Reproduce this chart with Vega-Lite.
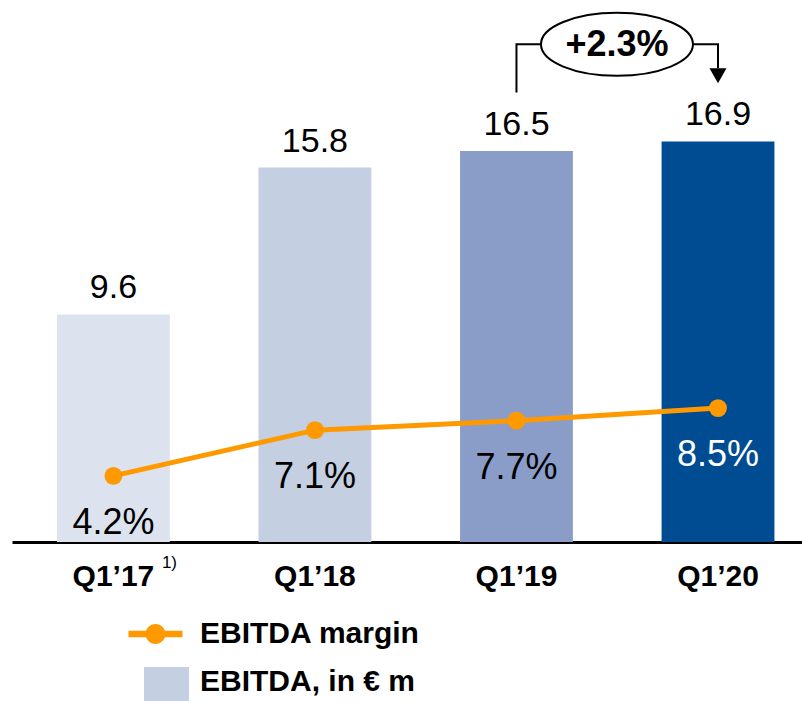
{
  "$schema": "https://vega.github.io/schema/vega-lite/v6.json",
  "width": 790,
  "height": 542,
  "autosize": {"type": "none"},
  "padding": {"left": 12, "top": 0, "right": 0, "bottom": 159},
  "background": "white",
  "config": {"font": "Liberation Sans", "view": {"stroke": null}},
  "datasets": {
    "main": [
      {"q": "Q1’17", "ebitda": 9.6, "margin": 4.2, "label": "4.2%"},
      {"q": "Q1’18", "ebitda": 15.8, "margin": 7.1, "label": "7.1%"},
      {"q": "Q1’19", "ebitda": 16.5, "margin": 7.7, "label": "7.7%"},
      {"q": "Q1’20", "ebitda": 16.9, "margin": 8.5, "label": "8.5%"}
    ],
    "bracket": [
      {"q": "Q1’19", "v": 18.97, "o": 1},
      {"q": "Q1’19", "v": 21.0, "o": 2},
      {"q": "Q1’20", "v": 21.0, "o": 3},
      {"q": "Q1’20", "v": 20.0, "o": 4}
    ],
    "growth": [{"q": "Q1’19", "v": 21.0, "text": "+2.3%"}],
    "arrow": [{"q": "Q1’20", "v": 19.67}],
    "note": [{"q": "Q1’17", "text": "1)"}]
  },
  "encoding": {
    "x": {
      "field": "q",
      "type": "nominal",
      "sort": null,
      "scale": {"domain": ["Q1’17", "Q1’18", "Q1’19", "Q1’20"], "paddingInner": 0.44, "paddingOuter": 0.18, "align": 0.62},
      "axis": {
        "title": null,
        "labelAngle": 0,
        "domainColor": "black",
        "domainWidth": 3,
        "ticks": false,
        "tickSize": 0,
        "labelPadding": 43,
        "labelBaseline": "alphabetic",
        "labelFont": "Liberation Sans",
        "labelFontWeight": "bold",
        "labelFontSize": 30,
        "labelColor": "black",
        "grid": false
      }
    }
  },
  "layer": [
    {
      "data": {"name": "main"},
      "mark": {"type": "bar"},
      "encoding": {
        "y": {"field": "ebitda", "type": "quantitative", "scale": {"domain": [0, 22.87]}, "axis": null},
        "fill": {
          "field": "q",
          "type": "nominal",
          "scale": {"domain": ["Q1’17", "Q1’18", "Q1’19", "Q1’20"], "range": ["#DDE3EE", "#C4CFE1", "#8A9DC9", "#004C93"]},
          "legend": null
        }
      }
    },
    {
      "data": {"name": "main"},
      "mark": {"type": "text", "baseline": "alphabetic", "dy": -16, "fontSize": 34, "color": "black"},
      "encoding": {
        "y": {"field": "ebitda", "type": "quantitative", "scale": {"domain": [0, 22.87]}, "axis": null},
        "text": {"field": "ebitda", "type": "quantitative", "format": ".1f"}
      }
    },
    {
      "data": {"name": "main"},
      "mark": {"type": "line", "strokeWidth": 5, "point": {"filled": true, "size": 320, "opacity": 1}},
      "encoding": {
        "y": {"field": "margin", "type": "quantitative", "scale": {"domain": [0, 34.4]}, "axis": null},
        "color": {
          "datum": "EBITDA margin",
          "type": "nominal",
          "scale": {"domain": ["EBITDA margin", "EBITDA, in € m"], "range": ["#FF9900", "#C4CFE1"]},
          "legend": {
            "title": null,
            "orient": "none",
            "legendX": 123.5,
            "legendY": 614,
            "direction": "vertical",
            "padding": 0,
            "symbolSize": 1600,
            "rowPadding": 13,
            "labelOffset": 24.5,
            "labelFont": "Liberation Sans",
            "labelFontSize": 30,
            "labelFontWeight": "bold",
            "labelColor": "black",
            "labelLimit": 400,
            "encode": {
              "symbols": {
                "update": {
                  "shape": {"signal": "datum.value === 'EBITDA margin' ? 'M-1.35,-0.16H1.35V0.16H-1.35Z M-0.5,0A0.5,0.5 0 1,1 0.5,0A0.5,0.5 0 1,1 -0.5,0Z' : 'M-0.575,-0.75H1.675V1.5H-0.575Z'"},
                  "fill": {"signal": "datum.value === 'EBITDA margin' ? '#FF9900' : '#C4CFE1'"},
                  "stroke": {"value": "transparent"},
                  "strokeWidth": {"value": 0},
                  "opacity": {"value": 1},
                  "fillOpacity": {"value": 1},
                  "size": {"value": 1600}
                }
              }
            }
          }
        }
      }
    },
    {
      "data": {"name": "main"},
      "mark": {"type": "text", "baseline": "alphabetic", "dy": 58, "fontSize": 36},
      "encoding": {
        "y": {"field": "margin", "type": "quantitative", "scale": {"domain": [0, 34.4]}, "axis": null},
        "text": {"field": "label"},
        "color": {"condition": {"test": "datum.q === 'Q1’20'", "value": "white"}, "value": "black"}
      }
    },
    {
      "data": {"name": "bracket"},
      "mark": {"type": "line", "color": "black", "strokeWidth": 2, "interpolate": "linear"},
      "encoding": {
        "y": {"field": "v", "type": "quantitative", "scale": {"domain": [0, 22.87]}, "axis": null},
        "order": {"field": "o", "type": "quantitative"}
      }
    },
    {
      "data": {"name": "arrow"},
      "mark": {"type": "point", "filled": true, "color": "black", "opacity": 1, "size": 289, "shape": "M-1,-0.88L1,-0.88L0,0.88Z"},
      "encoding": {
        "y": {"field": "v", "type": "quantitative", "scale": {"domain": [0, 22.87]}, "axis": null}
      }
    },
    {
      "data": {"name": "growth"},
      "mark": {"type": "point", "filled": false, "fill": "white", "fillOpacity": 1, "stroke": "black", "strokeWidth": 2, "opacity": 1, "size": 23104, "shape": "M-1,0A1,0.415 0 1,1 1,0A1,0.415 0 1,1 -1,0Z", "xOffset": 100.5},
      "encoding": {
        "y": {"field": "v", "type": "quantitative", "scale": {"domain": [0, 22.87]}, "axis": null}
      }
    },
    {
      "data": {"name": "growth"},
      "mark": {"type": "text", "baseline": "middle", "fontSize": 36, "fontWeight": "bold", "color": "black", "xOffset": 100.5, "dy": 1},
      "encoding": {
        "y": {"field": "v", "type": "quantitative", "scale": {"domain": [0, 22.87]}, "axis": null},
        "text": {"field": "text"}
      }
    },
    {
      "data": {"name": "note"},
      "mark": {"type": "text", "align": "left", "baseline": "alphabetic", "fontSize": 17, "color": "black", "dx": 48.5},
      "encoding": {
        "y": {"datum": -1.1, "type": "quantitative", "scale": {"domain": [0, 22.87]}, "axis": null},
        "text": {"field": "text"}
      }
    }
  ],
  "resolve": {"scale": {"y": "independent"}}
}
